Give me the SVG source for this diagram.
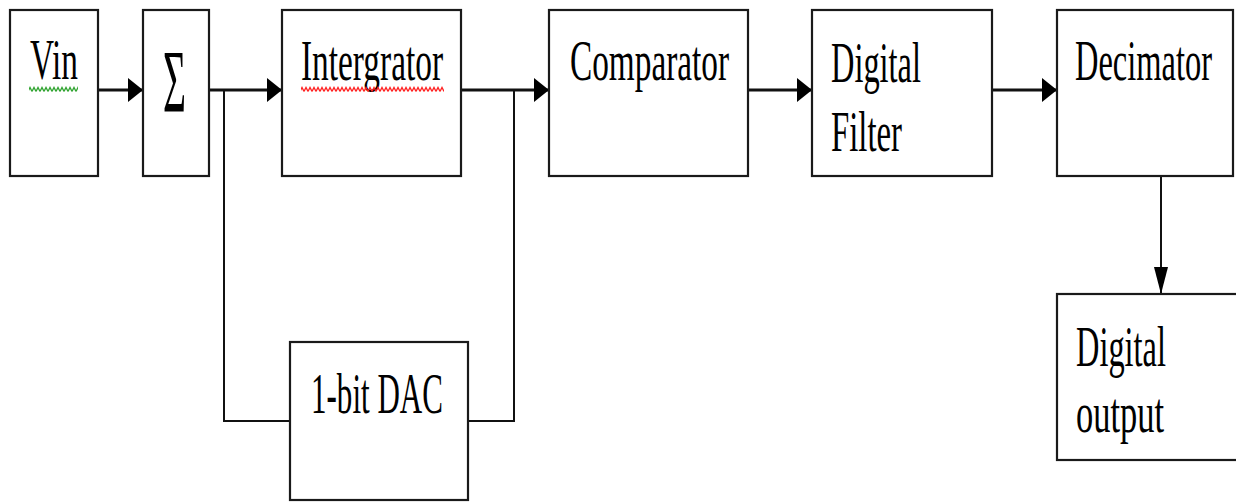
<svg xmlns="http://www.w3.org/2000/svg" width="1236" height="502" viewBox="0 0 1236 502">
<style>
.box{fill:#fff;stroke:#1a1a1a;stroke-width:2.2}
.t{font-family:"Liberation Serif","Times New Roman",serif;font-size:58px;fill:#000}
.main{stroke:#111;stroke-width:3.2;fill:none}
.fb{stroke:#111;stroke-width:2;fill:none}
</style>
<defs>
<marker id="ah" markerUnits="userSpaceOnUse" markerWidth="16" markerHeight="26" refX="15" refY="13" orient="auto">
<path d="M0,1 L15,13 L0,25 z" fill="#000"/>
</marker>
<marker id="av" markerUnits="userSpaceOnUse" markerWidth="28" markerHeight="16" refX="27" refY="8" orient="auto">
<path d="M0,1 L27,8 L0,15 z" fill="#000"/>
</marker>
<pattern id="gw" patternUnits="userSpaceOnUse" x="0" y="86" width="4" height="7">
<polyline points="0,5.5 2,1.5 4,5.5" fill="none" stroke="#2fa32f" stroke-width="1.3"/>
</pattern>
<pattern id="rw" patternUnits="userSpaceOnUse" x="0" y="86" width="4" height="7">
<polyline points="0,5.5 2,1.5 4,5.5" fill="none" stroke="#ff2020" stroke-width="1.3"/>
</pattern>
</defs>

<g id="connectors">
<line class="main" x1="98" y1="90" x2="143" y2="90" marker-end="url(#ah)"/>
<line class="main" x1="209" y1="90" x2="282" y2="90" marker-end="url(#ah)"/>
<polyline class="fb" points="224,90 224,421 290,421"/>
<line class="main" x1="461" y1="90" x2="549" y2="90" marker-end="url(#ah)"/>
<polyline class="fb" points="468,421 514,421 514,90"/>
<line class="main" x1="748" y1="90" x2="812" y2="90" marker-end="url(#ah)"/>
<line class="main" x1="992" y1="90" x2="1057" y2="90" marker-end="url(#ah)"/>
<line class="fb" x1="1161" y1="176" x2="1161" y2="294" marker-end="url(#av)"/>
</g>

<g id="vin">
<rect class="box" x="10" y="10" width="88" height="166"/>
<text class="t" x="30" y="79" textLength="48" lengthAdjust="spacingAndGlyphs">Vin</text>
<rect x="29" y="86" width="49" height="7" fill="url(#gw)"/>
</g>

<g id="sum">
<rect class="box" x="143" y="10" width="66" height="166"/>
<text class="t" x="163" y="111" style="font-size:88px" textLength="23" lengthAdjust="spacingAndGlyphs">Σ</text>
</g>

<g id="integrator">
<rect class="box" x="282" y="10" width="179" height="166"/>
<text class="t" x="301" y="80" textLength="142" lengthAdjust="spacingAndGlyphs">Intergrator</text>
<rect x="301" y="86" width="143" height="7" fill="url(#rw)"/>
</g>

<g id="comparator">
<rect class="box" x="549" y="10" width="199" height="166"/>
<text class="t" x="570" y="80" textLength="159" lengthAdjust="spacingAndGlyphs">Comparator</text>
</g>

<g id="filter">
<rect class="box" x="812" y="10" width="180" height="166"/>
<text class="t" x="831" y="82" textLength="90" lengthAdjust="spacingAndGlyphs">Digital</text>
<text class="t" x="831" y="151" textLength="71" lengthAdjust="spacingAndGlyphs">Filter</text>
</g>

<g id="decimator">
<rect class="box" x="1057" y="10" width="176" height="166"/>
<text class="t" x="1075" y="80" textLength="137" lengthAdjust="spacingAndGlyphs">Decimator</text>
</g>

<g id="output">
<rect class="box" x="1057" y="294" width="185" height="166"/>
<text class="t" x="1076" y="366" textLength="90" lengthAdjust="spacingAndGlyphs">Digital</text>
<text class="t" x="1076" y="432" textLength="88" lengthAdjust="spacingAndGlyphs">output</text>
</g>

<g id="dac">
<rect class="box" x="290" y="342" width="178" height="158"/>
<text class="t" x="311" y="413" textLength="132" lengthAdjust="spacingAndGlyphs">1-bit DAC</text>
</g>
</svg>
